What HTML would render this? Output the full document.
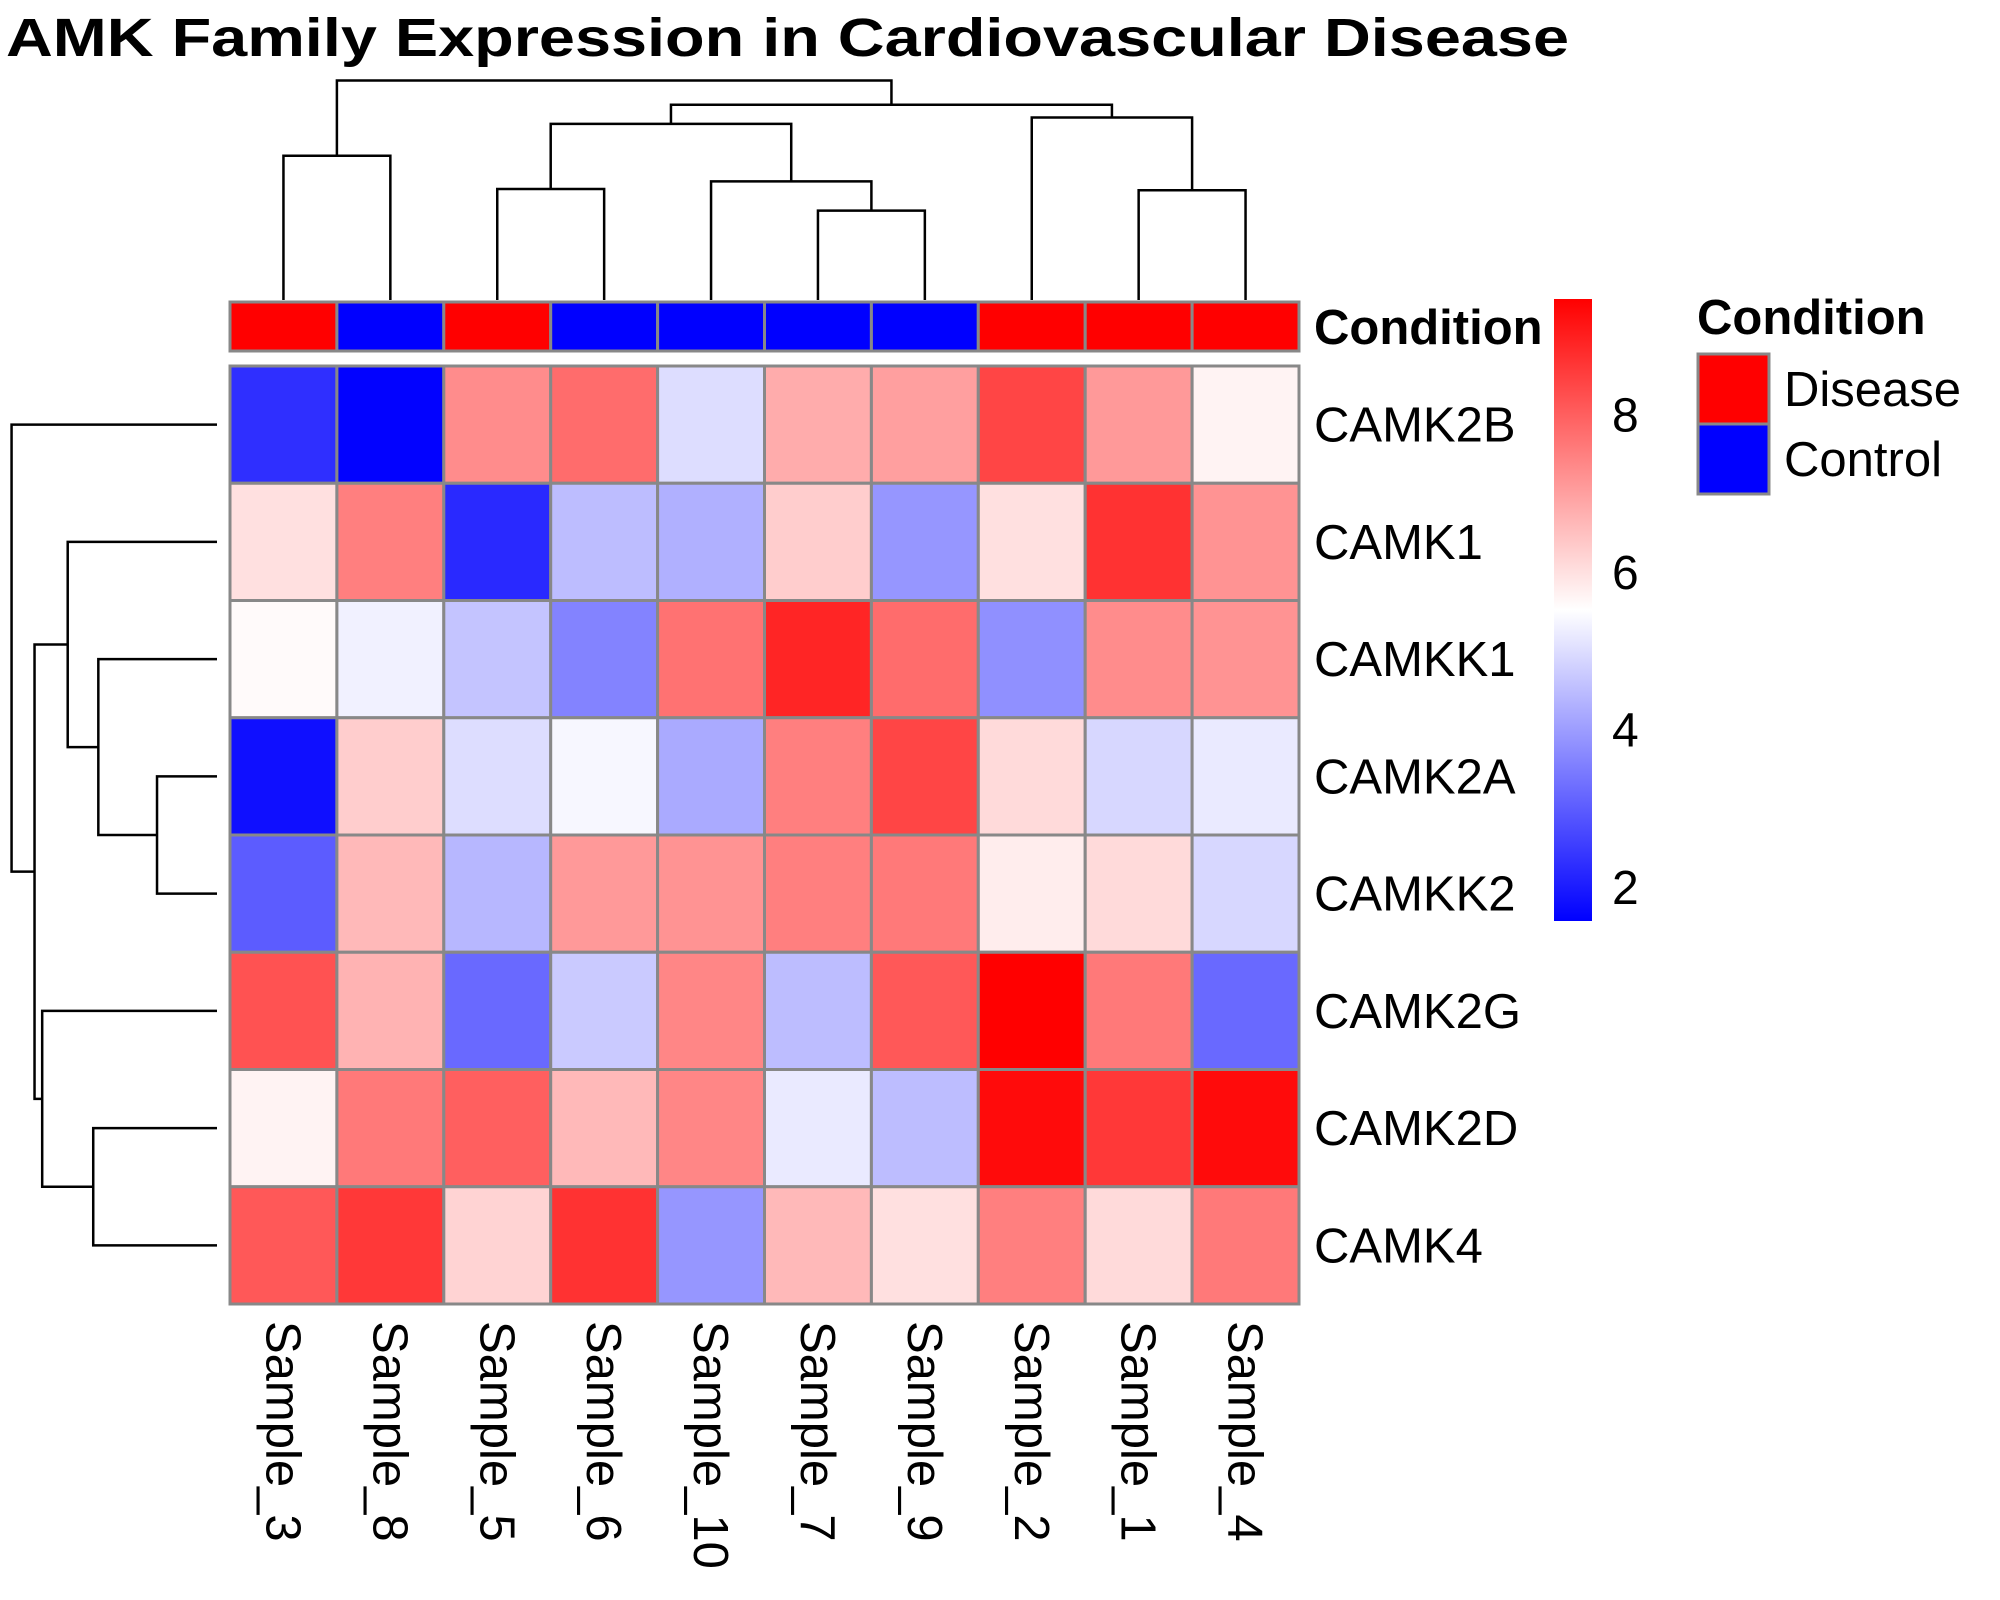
<!DOCTYPE html>
<html><head><meta charset="utf-8">
<style>
html,body{margin:0;padding:0;background:#fff;}
svg{display:block;font-family:"Liberation Sans",Arial,sans-serif;}
</style></head>
<body>
<svg id="chart" width="2000" height="1600" viewBox="0 0 2000 1600" xmlns="http://www.w3.org/2000/svg">
<text x="6" y="56" font-size="54" font-weight="bold" textLength="1563" lengthAdjust="spacingAndGlyphs">AMK Family Expression in Cardiovascular Disease</text>
<g id="dendro-top"></g>
<g id="dendro-left"></g>
<g id="annot"></g>
<g id="cells"></g>
<g id="rowlabels"></g>
<g id="collabels"></g>
<text x="1314" y="344" font-size="49" font-weight="bold">Condition</text>
<defs><linearGradient id="cbg" x1="0" y1="1" x2="0" y2="0">
<stop offset="0" stop-color="#0000ff"/><stop offset="0.5" stop-color="#ffffff"/><stop offset="1" stop-color="#ff0000"/></linearGradient></defs>
<rect x="1554" y="299" width="38" height="622" fill="url(#cbg)"/>
<g id="cbticks"></g>
<g>
<text x="1697" y="334" font-size="49" font-weight="bold">Condition</text>
<rect x="1698" y="354" width="71" height="70" fill="#ff0000" stroke="#888" stroke-width="3"/>
<rect x="1698" y="424" width="71" height="70" fill="#0000ff" stroke="#888" stroke-width="3"/>
<text x="1784" y="406" font-size="49">Disease</text>
<text x="1784" y="476" font-size="49">Control</text>
</g>
</svg>
<script>
const samples = ["Sample_3","Sample_8","Sample_5","Sample_6","Sample_10","Sample_7","Sample_9","Sample_2","Sample_1","Sample_4"];
const conditions = ["Disease","Control","Disease","Control","Control","Control","Control","Disease","Disease","Disease"];
const genes = ["CAMK2B","CAMK1","CAMKK1","CAMK2A","CAMKK2","CAMK2G","CAMK2D","CAMK4"];
const rowCAMK2B = [2.3,1.6,7.3,7.8,5.0,6.8,7.0,8.4,7.1,5.7];
const rowCAMK1  = [6.0,7.5,2.2,4.5,4.3,6.3,3.9,6.0,8.7,7.2];
const rowCAMKK1 = [5.6,5.3,4.6,3.6,7.7,8.9,7.8,3.8,7.3,7.2];
const rowCAMK2A = [1.8,6.3,5.0,5.4,4.2,7.5,8.4,6.1,4.9,5.2];
const rowCAMKK2 = [3.0,6.6,4.4,7.1,7.2,7.5,7.6,5.8,6.1,4.9];
const rowCAMK2G = [8.2,6.7,3.2,4.7,7.4,4.5,8.1,9.5,7.6,3.2];
const rowCAMK2D = [5.7,7.6,8.0,6.6,7.4,5.2,4.5,9.3,8.6,9.3];
const rowCAMK4  = [8.1,8.6,6.2,8.7,3.9,6.6,6.0,7.5,6.1,7.6];
const colorTicks = [2,4,6,8];
const scaleMin = 1.57, scaleMax = 9.47;
const colMerges = [[0,1,113],[2,3,87],[5,6,70],[4,"c2",93],["c1","c3",138],[8,9,86],[7,"c5",143],["c4","c6",153],["c0","c7",172]];
const rowMerges = [[3,4,47],[2,"c0",93],[1,"c1",117],[6,7,97],[5,"c3",137],["c2","c4",143],[0,"c5",161]];
const rowVals = [rowCAMK2B,rowCAMK1,rowCAMKK1,rowCAMK2A,rowCAMKK2,rowCAMK2G,rowCAMK2D,rowCAMK4];

const NS="http://www.w3.org/2000/svg";
const S=1.276;
const X0=230,X1=1299,Y0=366,Y1=1304;
const cw=(X1-X0)/samples.length, rh=(Y1-Y0)/genes.length;
const colX=i=>X0+cw*(i+0.5), rowY=i=>Y0+rh*(i+0.5);
function mk(tag,attrs,parent){const e=document.createElementNS(NS,tag);for(const k in attrs)e.setAttribute(k,attrs[k]);parent.appendChild(e);return e;}
function color(v){let t=(v-scaleMin)/(scaleMax-scaleMin);t=Math.max(0,Math.min(1,t));
 if(t<0.5){const f=t/0.5;const c=Math.round(255*f);return `rgb(${c},${c},255)`;}
 const f=(t-0.5)/0.5;const c=Math.round(255*(1-f));return `rgb(255,${c},${c})`;}
const cells=document.getElementById('cells');
rowVals.forEach((row,r)=>row.forEach((v,c)=>{
 const e=mk('rect',{x:X0+c*cw,y:Y0+r*rh,width:cw,height:rh,fill:color(v),stroke:'#888','stroke-width':3},cells);
 
 
}));
const annot=document.getElementById('annot');
conditions.forEach((c,i)=>{
 const e=mk('rect',{x:X0+i*cw,y:302,width:cw,height:49,fill:c==="Disease"?'#ff0000':'#0000ff',stroke:'#888','stroke-width':3},annot);
 
 
});
const rl=document.getElementById('rowlabels');
genes.forEach((g,i)=>{
 const t=mk('text',{x:1314,y:rowY(i)+17,'font-size':49},rl);t.textContent=g;
 
 
});
const cl=document.getElementById('collabels');
samples.forEach((s,i)=>{
 const t=mk('text',{x:0,y:0,'font-size':49,transform:`translate(${colX(i)-17},1321) rotate(90)`},cl);t.textContent=s;
 
 
});
const cb=document.getElementById('cbticks');
colorTicks.forEach(v=>{
 const y=921-(v-scaleMin)/(scaleMax-scaleMin)*622;
 const t=mk('text',{x:1612,y:y+17,'font-size':48},cb);t.textContent=v;
 
 
});
function drawDendro(merges,g,pos,isTop){
 const base=isTop?300:217;
 const hp=h=>base-h*S;
 const nodes=[];
 const get=k=>typeof k==="string"?nodes[+k.slice(1)]:{p:pos(k),h:0};
 merges.forEach(m=>{
  const a=get(m[0]),b=get(m[1]),h=hp(m[2]);
  const ha=hp(a.h),hb=hp(b.h);
  let d;
  if(isTop) d=`M${a.p},${ha}V${h}H${b.p}V${hb}`;
  else d=`M${ha},${a.p}H${h}V${b.p}H${hb}`;
  const e=mk('path',{d:d,fill:'none',stroke:'#000','stroke-width':2.5},g);
  
  
  nodes.push({p:(a.p+b.p)/2,h:m[2]});
 });
}
drawDendro(colMerges,document.getElementById('dendro-top'),colX,true);
drawDendro(rowMerges,document.getElementById('dendro-left'),rowY,false);
</script>
</body></html>
